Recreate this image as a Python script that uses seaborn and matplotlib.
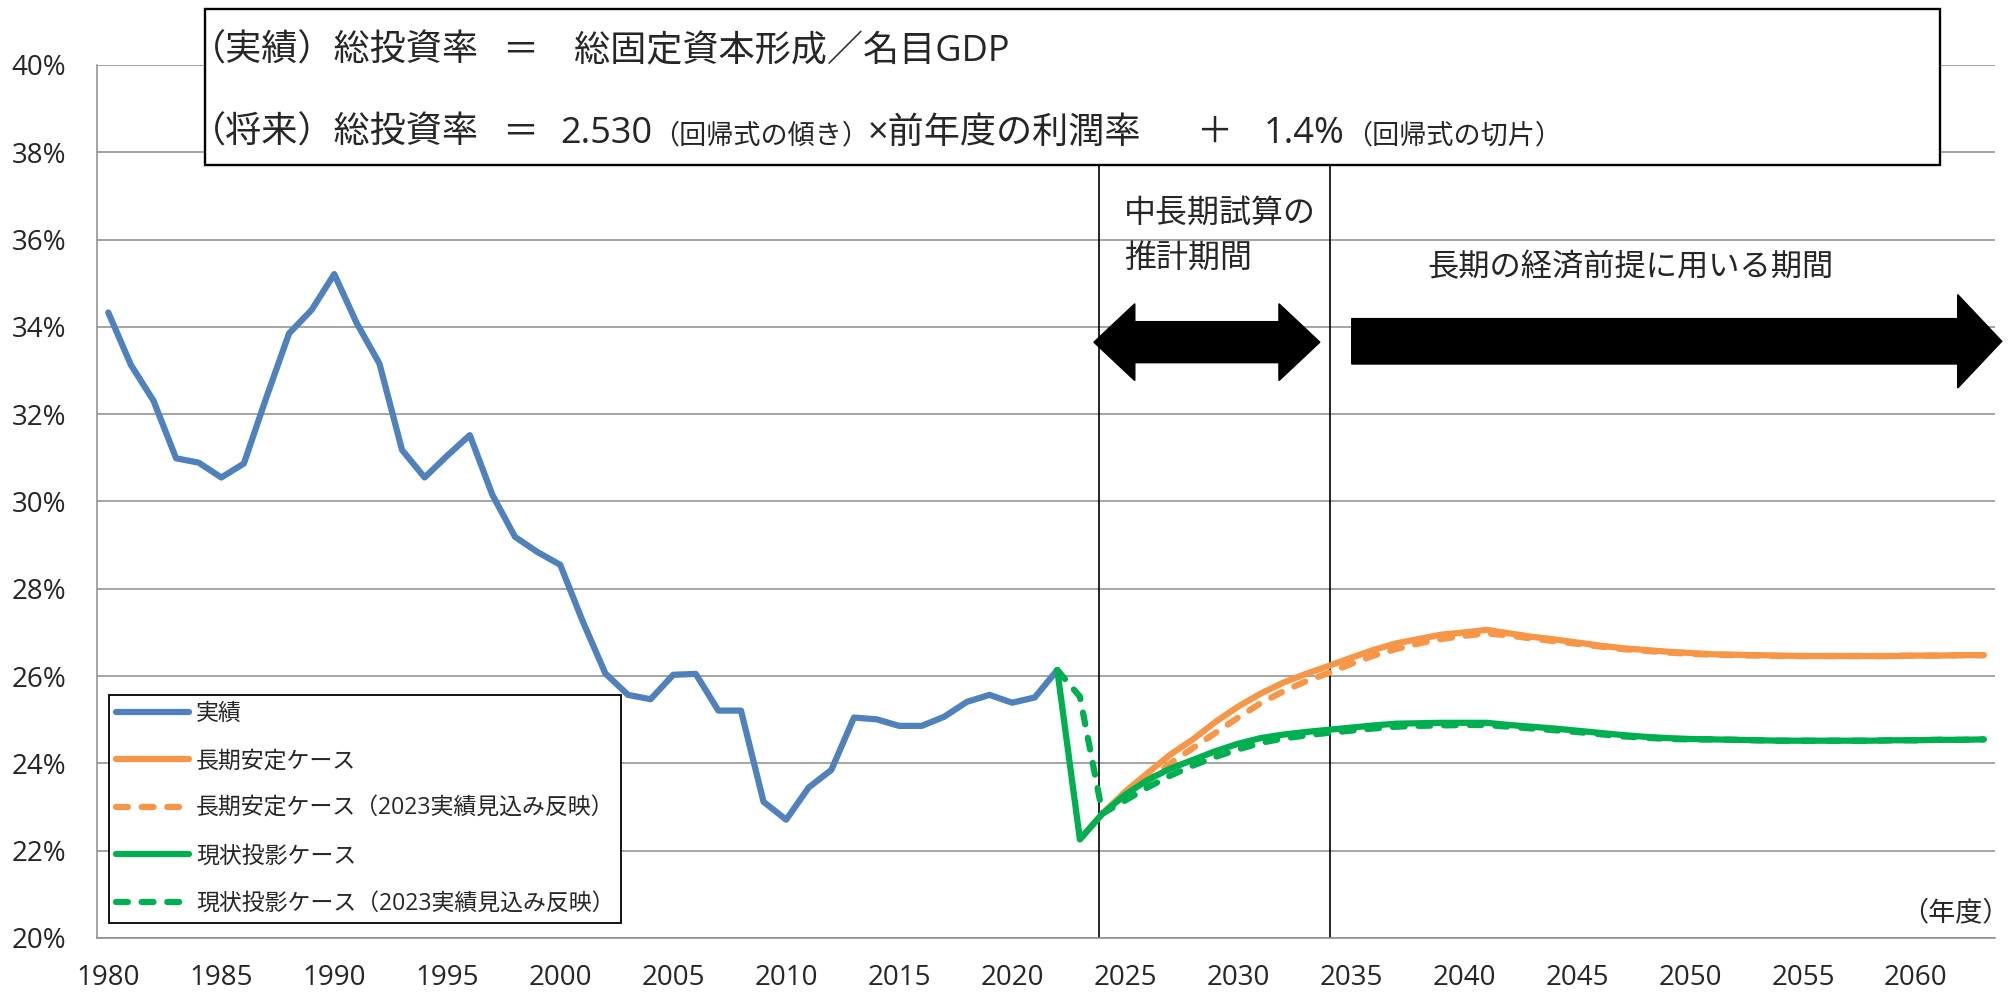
import numpy as np
import pandas as pd
import seaborn as sns
import matplotlib.pyplot as plt
from matplotlib.lines import Line2D
from matplotlib.patches import Rectangle, Polygon

# 実績（総投資率, %）1980-2022年度
hist_years = list(range(1980, 2023))
hist_rate = [34.33, 33.13, 32.31, 30.99, 30.89, 30.55, 30.87, 32.39, 33.85, 34.39,
             35.21, 34.08, 33.16, 31.18, 30.55, 31.05, 31.52, 30.15, 29.19, 28.84,
             28.55, 27.25, 26.06, 25.57, 25.47, 26.03, 26.05, 25.21, 25.21, 23.12,
             22.71, 23.45, 23.85, 25.05, 25.01, 24.86, 24.86, 25.07, 25.41, 25.57,
             25.39, 25.51, 26.14]

# 長期安定ケース
stable_years = list(range(2023, 2064))
stable_rate = [22.26, 22.85, 23.35, 23.78, 24.20, 24.55, 24.95, 25.30, 25.60, 25.85,
               26.05, 26.23, 26.42, 26.60, 26.75, 26.85, 26.95, 27.00, 27.06, 26.98,
               26.90, 26.84, 26.77, 26.70, 26.64, 26.60, 26.56, 26.53, 26.50, 26.49,
               26.48, 26.47, 26.46, 26.46, 26.46, 26.46, 26.46, 26.47, 26.47, 26.48,
               26.48]

# 長期安定ケース（2023実績見込み反映）
stable_adj_years = list(range(2024, 2064))
stable_adj_rate = [22.85, 23.20, 23.60, 24.00, 24.35, 24.70, 25.05, 25.38, 25.65, 25.88,
                   26.07, 26.28, 26.47, 26.62, 26.75, 26.85, 26.92, 26.98, 26.93, 26.86,
                   26.80, 26.74, 26.68, 26.62, 26.58, 26.54, 26.51, 26.49, 26.48, 26.47,
                   26.46, 26.46, 26.46, 26.46, 26.46, 26.46, 26.47, 26.47, 26.48, 26.48]

# 現状投影ケース
base_years = list(range(2022, 2064))
base_rate = [26.14, 22.26, 22.85, 23.28, 23.62, 23.88, 24.08, 24.28, 24.45, 24.58,
             24.66, 24.72, 24.77, 24.82, 24.87, 24.91, 24.92, 24.93, 24.93, 24.93,
             24.88, 24.84, 24.80, 24.75, 24.70, 24.65, 24.61, 24.58, 24.56, 24.55,
             24.54, 24.53, 24.52, 24.52, 24.52, 24.52, 24.52, 24.53, 24.53, 24.54,
             24.54, 24.55]

# 現状投影ケース（2023実績見込み反映）
base_adj_years = list(range(2022, 2064))
base_adj_rate = [26.14, 25.53, 22.85, 23.15, 23.45, 23.72, 23.95, 24.15, 24.32, 24.47,
                 24.57, 24.64, 24.70, 24.75, 24.80, 24.84, 24.86, 24.87, 24.88, 24.88,
                 24.84, 24.80, 24.76, 24.72, 24.67, 24.62, 24.59, 24.56, 24.55, 24.55,
                 24.54, 24.53, 24.52, 24.52, 24.52, 24.52, 24.52, 24.53, 24.53, 24.54,
                 24.54, 24.55]

names = ["実績", "長期安定ケース", "長期安定ケース（2023実績見込み反映）",
         "現状投影ケース", "現状投影ケース（2023実績見込み反映）"]
colors = {names[0]: "#4F81BD", names[1]: "#F79646", names[2]: "#F79646",
          names[3]: "#00B050", names[4]: "#00B050"}
dash = (1.9, 2.2)
dash_map = {names[0]: "", names[1]: "", names[2]: dash, names[3]: "", names[4]: dash}

parts = []
for n, yrs, vals in zip(names,
                        [hist_years, stable_years, stable_adj_years, base_years, base_adj_years],
                        [hist_rate, stable_rate, stable_adj_rate, base_rate, base_adj_rate]):
    parts.append(pd.DataFrame({"year": yrs, "rate": vals, "series": n}))
df = pd.concat(parts, ignore_index=True)

sns.set_style("white")
plt.rcParams["font.family"] = ["Open Sans", "Noto Sans CJK JP", "DejaVu Sans"]

W, H = 2012, 992
fig = plt.figure(figsize=(W / 100, H / 100), dpi=100)
ax = fig.add_axes([97 / W, 1 - 938 / H, 1898 / W, 873 / H])

LW = 4.5
sns.lineplot(data=df, x="year", y="rate", hue="series", style="series",
             hue_order=names, style_order=names, palette=colors, dashes=dash_map,
             linewidth=LW, estimator=None, legend=False, ax=ax, zorder=3)
for ln in ax.lines:
    ln.set_dash_capstyle("round")
    ln.set_solid_capstyle("round")
    ln.set_solid_joinstyle("round")

grid_c = "#8c8c8c"
ax.set_xlim(1979.5, 2063.5)
ax.set_ylim(20, 40)
ax.set_xticks(range(1980, 2061, 5))
ax.set_xticks(np.arange(1979.5, 2064, 1), minor=True)
ax.set_yticks(np.arange(20, 41, 2))
ax.set_yticks(np.arange(20, 40.01, 0.4), minor=True)
ax.yaxis.set_major_formatter(lambda v, p: f"{v:.0f}%")
ax.set_xlabel("")
ax.set_ylabel("")
ax.tick_params(axis="x", which="major", length=0, pad=19, labelsize=20)
ax.tick_params(axis="x", which="minor", length=7.2, width=1.1, color=grid_c)
ax.tick_params(axis="y", which="both", length=5, width=1.1, color=grid_c)
ax.tick_params(axis="y", which="major", pad=17, labelsize=20)
ax.yaxis.grid(True, which="major", color=grid_c, lw=1.1)
ax.set_axisbelow(True)
for s in ["top", "right"]:
    ax.spines[s].set_visible(False)
for s in ["left", "bottom"]:
    ax.spines[s].set_color(grid_c)
    ax.spines[s].set_linewidth(1.1)

# 推計期間の区切り線
ax.vlines([2023.84, 2034.09], 20, 37.7, color="black", lw=1.2, zorder=2)

# 矢印
def arrow_pts(x0, x1, yc, sh, hh, hl, double):
    pts = []
    if double:
        pts += [(x0, yc), (x0 + hl, yc + hh), (x0 + hl, yc + sh)]
    else:
        pts += [(x0, yc + sh)]
    pts += [(x1 - hl, yc + sh), (x1 - hl, yc + hh), (x1, yc), (x1 - hl, yc - hh), (x1 - hl, yc - sh)]
    if double:
        pts += [(x0 + hl, yc - sh), (x0 + hl, yc - hh)]
    else:
        pts += [(x0, yc - sh)]
    return pts

ax.add_patch(Polygon(arrow_pts(2023.62, 2033.62, 33.65, 0.47, 0.88, 1.81, True),
                     closed=True, color="black", clip_on=False, zorder=4))
ax.add_patch(Polygon(arrow_pts(2035.03, 2063.8, 33.67, 0.52, 1.07, 1.95, False),
                     closed=True, color="black", clip_on=False, zorder=4))

def ftext(x, y, s, **kw):
    return fig.text(x / W, 1 - y / H, s, **kw)

ftext(1124, 213, "中長期試算の", fontsize=23, va="center", ha="left")
ftext(1124, 258, "推計期間", fontsize=23, va="center", ha="left")
ftext(1630, 268, "長期の経済前提に用いる期間", fontsize=22.5, va="center", ha="center")
ftext(2010, 913, "（年度）", fontsize=19.5, va="center", ha="right")

# 数式の枠
fig.patches.append(Rectangle((205 / W, 1 - 165 / H), (1940 - 205) / W, (165 - 9) / H,
                             transform=fig.transFigure, facecolor="white",
                             edgecolor="black", lw=1.7, zorder=5))

renderer = fig.canvas.get_renderer()

def put_line(pieces, base_px):
    # x=None なら直前の文字列の後ろに続ける
    x = 0
    for s, size, x0 in pieces:
        if x0 is not None:
            x = x0
        t = ftext(x, base_px, s, fontsize=size, va="baseline", ha="left", zorder=6)
        x = t.get_window_extent(renderer).x1

BIG, SMALL = 26, 19.5
put_line([("（実績）総投資率", BIG, 190), ("＝", BIG, 502),
          ("総固定資本形成／名目GDP", BIG, 574)], 61)
put_line([("（将来）総投資率", BIG, 190), ("＝", BIG, 502), ("2.530", BIG, 560),
          ("（回帰式の傾き）", SMALL, None), ("×前年度の利潤率", BIG, 868),
          ("＋", BIG, 1196), ("1.4%", BIG, 1264), ("（回帰式の切片）", SMALL, None)], 143)

# 凡例
handles = [Line2D([], [], color=colors[n], lw=LW,
                  linestyle="-" if dash_map[n] == "" else (0, dash),
                  dash_capstyle="round", solid_capstyle="round") for n in names]
leg = ax.legend(handles, names, loc="lower left", bbox_to_anchor=(0.0063, 0.0172),
                bbox_transform=ax.transAxes, borderaxespad=0, fontsize=16.5,
                frameon=True, fancybox=False, framealpha=1, edgecolor="black",
                handlelength=3.2, handletextpad=0.3, labelspacing=1.03, borderpad=0.3)
leg.get_frame().set_linewidth(1.3)
leg.set_zorder(5)

fig.savefig("out.png", dpi=100)
